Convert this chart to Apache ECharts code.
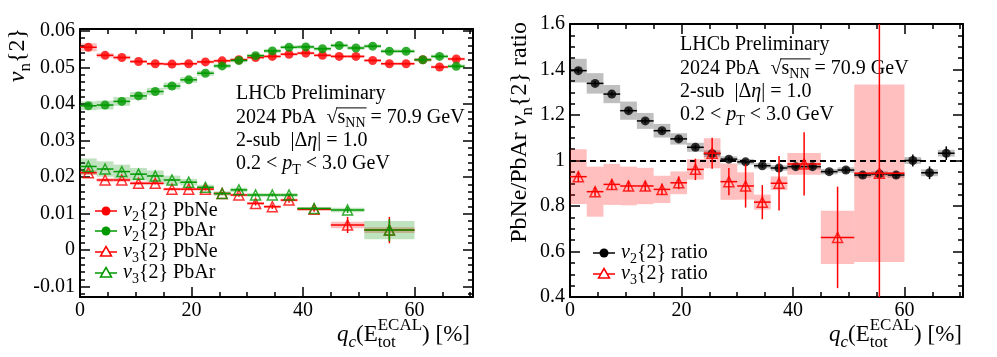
<!DOCTYPE html>
<html>
<head>
<meta charset="utf-8">
<script src="https://cdn.jsdelivr.net/npm/echarts@6/dist/echarts.min.js"></script>
<style>
  html, body { margin: 0; padding: 0; background: #fff; }
  #chart { width: 997px; height: 357px; }
</style>
</head>
<body>
<div id="chart"></div>
<script>
// centrality bins, q_c in %
const v2Bins = [1.5, 4.5, 7.5, 10.5, 13.5, 16.5, 19.5, 22.5, 25.5, 28.5, 31.5, 34.5, 37.5, 40.5, 43.5, 46.5, 49.5, 52.5, 55.5, 58.5, 61.5, 64.5, 67.5]
const v2HalfWidth = 1.5
const v3Bins = [1.5, 4.5, 7.5, 10.5, 13.5, 16.5, 19.5, 22.5, 25.5, 28.5, 31.5, 34.5, 37.5, 42, 48, 55.5]
const v3HalfWidth = [1.5, 1.5, 1.5, 1.5, 1.5, 1.5, 1.5, 1.5, 1.5, 1.5, 1.5, 1.5, 1.5, 3, 3, 4.5]

// left panel: vn{2}
const v2PbNe = [0.0555, 0.0533, 0.0527, 0.0516, 0.0510, 0.0509, 0.0510, 0.0515, 0.0518, 0.0521, 0.0527, 0.0530, 0.0536, 0.0539, 0.0533, 0.0530, 0.0530, 0.0519, 0.0510, 0.0510, 0.0521, 0.0501, 0.0523]
const v2PbNeStat = [0.0002, 0.0002, 0.0002, 0.0002, 0.0002, 0.0002, 0.0002, 0.0002, 0.0002, 0.0002, 0.0002, 0.0002, 0.0002, 0.0002, 0.0002, 0.0002, 0.0002, 0.0002, 0.0003, 0.0003, 0.0004, 0.0004, 0.0004]
const v2PbNeSyst = [0.0011, 0.0006, 0.0005, 0.0004, 0.0004, 0.0004, 0.0004, 0.0004, 0.0004, 0.0004, 0.0004, 0.0004, 0.0004, 0.0004, 0.0004, 0.0004, 0.0004, 0.0004, 0.0004, 0.0004, 0.0004, 0.0004, 0.0004]
const v2PbAr = [0.0395, 0.0397, 0.0407, 0.0422, 0.0434, 0.0449, 0.0466, 0.0484, 0.0504, 0.0519, 0.0532, 0.0545, 0.0555, 0.0556, 0.0551, 0.0560, 0.0553, 0.0558, 0.0544, 0.0544, 0.0521, 0.0530, 0.0503]
const v2PbArStat = [0.0002, 0.0002, 0.0002, 0.0002, 0.0002, 0.0002, 0.0002, 0.0002, 0.0002, 0.0002, 0.0002, 0.0002, 0.0002, 0.0002, 0.0002, 0.0002, 0.0002, 0.0002, 0.0003, 0.0003, 0.0004, 0.0004, 0.0004]
const v2PbArSyst = [0.0012, 0.0012, 0.0012, 0.0011, 0.0010, 0.0009, 0.0008, 0.0007, 0.0006, 0.0005, 0.0005, 0.0005, 0.0005, 0.0005, 0.0005, 0.0005, 0.0005, 0.0005, 0.0005, 0.0005, 0.0005, 0.0005, 0.0005]
const v3PbNe = [0.0212, 0.0192, 0.0192, 0.0183, 0.0183, 0.0167, 0.0167, 0.0167, 0.0155, 0.0151, 0.0128, 0.0119, 0.0137, 0.0112, 0.0069, 0.0055]
const v3PbNeStat = [0.0003, 0.0003, 0.0003, 0.0003, 0.0003, 0.0003, 0.0003, 0.0004, 0.0004, 0.0005, 0.0006, 0.0006, 0.0007, 0.0007, 0.0022, 0.0036]
const v3PbNeSyst = [0.0006, 0.0005, 0.0005, 0.0005, 0.0005, 0.0004, 0.0004, 0.0004, 0.0004, 0.0004, 0.0004, 0.0004, 0.0004, 0.0005, 0.0009, 0.0008]
const v3PbAr = [0.0229, 0.0222, 0.0215, 0.0208, 0.0203, 0.0192, 0.0186, 0.0172, 0.0155, 0.0165, 0.0151, 0.0151, 0.0151, 0.0114, 0.0110, 0.0055]
const v3PbArStat = [0.0003, 0.0003, 0.0003, 0.0003, 0.0003, 0.0003, 0.0003, 0.0003, 0.0003, 0.0004, 0.0004, 0.0004, 0.0004, 0.0005, 0.0008, 0.0030]
const v3PbArSyst = [0.0022, 0.0021, 0.0019, 0.0017, 0.0015, 0.0012, 0.0009, 0.0007, 0.0006, 0.0006, 0.0005, 0.0005, 0.0005, 0.0004, 0.0006, 0.0025]

// right panel: PbNe/PbAr ratio
const ratioV2 = [1.395, 1.339, 1.292, 1.219, 1.174, 1.131, 1.095, 1.058, 1.030, 1.006, 0.994, 0.977, 0.967, 0.973, 0.973, 0.951, 0.958, 0.936, 0.941, 0.936, 1.000, 0.946, 1.032]
const ratioV2Stat = [0.010, 0.010, 0.010, 0.010, 0.010, 0.010, 0.010, 0.010, 0.010, 0.010, 0.010, 0.010, 0.010, 0.010, 0.010, 0.010, 0.012, 0.012, 0.012, 0.014, 0.026, 0.028, 0.030]
const ratioV2Syst = [0.052, 0.045, 0.040, 0.040, 0.035, 0.030, 0.025, 0.020, 0.015, 0.012, 0.012, 0.012, 0.012, 0.012, 0.012, 0.012, 0.012, 0.012, 0.012, 0.012, 0.015, 0.015, 0.015]
const ratioV3 = [0.929, 0.863, 0.895, 0.888, 0.888, 0.873, 0.902, 0.961, 1.032, 0.907, 0.888, 0.817, 0.900, 0.985, 0.662, 0.944]
const ratioV3Stat = [0.022, 0.020, 0.022, 0.022, 0.022, 0.025, 0.028, 0.047, 0.068, 0.060, 0.095, 0.075, 0.120, 0.139, 0.223, 1.500]
const ratioV3Syst = [0.120, 0.110, 0.090, 0.085, 0.080, 0.060, 0.050, 0.045, 0.066, 0.080, 0.060, 0.033, 0.030, 0.048, 0.117, 0.390]

const X_MAX = 70.5
const FONT = 'Liberation Serif'
const RED = '#ff0000'
const GREEN = '#009900'
const BLACK = '#000000'

const hw = (w, i) => Array.isArray(w) ? w[i] : w

// syst. uncertainty boxes
function boxSeries(grid, xs, w, ys, errs, fill, z) {
  return {
    type: 'custom', xAxisIndex: grid * 4, yAxisIndex: grid * 4, z, silent: true, animation: false,
    data: xs.map((x, i) => [x - hw(w, i), x + hw(w, i), ys[i] - errs[i], ys[i] + errs[i]]),
    renderItem(params, api) {
      const a = api.coord([api.value(0), api.value(3)])
      const b = api.coord([api.value(1), api.value(2)])
      const cs = params.coordSys
      const r = echarts.graphic.clipRectByRect(
        { x: a[0], y: a[1], width: b[0] - a[0], height: b[1] - a[1] },
        { x: cs.x, y: cs.y, width: cs.width, height: cs.height })
      return r ? { type: 'rect', shape: r, style: { fill } } : null
    }
  }
}

// bin width + stat. error bars
function errSeries(grid, xs, w, ys, errs, color, z) {
  return {
    type: 'custom', xAxisIndex: grid * 4, yAxisIndex: grid * 4, z, silent: true, animation: false,
    data: xs.map((x, i) => [x, x - hw(w, i), x + hw(w, i), ys[i], ys[i] - errs[i], ys[i] + errs[i]]),
    renderItem(params, api) {
      const c = api.coord([api.value(0), api.value(3)])
      const l = api.coord([api.value(1), api.value(3)])
      const r = api.coord([api.value(2), api.value(3)])
      const lo = api.coord([api.value(0), api.value(4)])
      const hi = api.coord([api.value(0), api.value(5)])
      const cs = params.coordSys
      const top = Math.max(hi[1], cs.y), bot = Math.min(lo[1], cs.y + cs.height)
      const st = { stroke: color, lineWidth: 1.5 }
      return { type: 'group', children: [
        { type: 'line', shape: { x1: l[0], y1: c[1], x2: r[0], y2: c[1] }, style: st },
        { type: 'line', shape: { x1: c[0], y1: top, x2: c[0], y2: bot }, style: st }
      ] }
    }
  }
}

function markerSeries(grid, xs, ys, color, open, z, size) {
  return {
    type: 'scatter', xAxisIndex: grid * 4, yAxisIndex: grid * 4, z, silent: true, animation: false,
    symbol: open ? 'triangle' : 'circle', symbolSize: size,
    itemStyle: open ? { color: 'rgba(255,255,255,0)', borderColor: color, borderWidth: 1.5 } : { color },
    data: xs.map((x, i) => [x, ys[i]])
  }
}

// axes: major + minor tick axes on each side of the frame
const lineSt = { color: '#000', width: 2 }
const tickSt = { color: '#000', width: 1.5 }
const labelSt = { color: '#000', fontFamily: FONT, fontSize: 20 }
function xAxes(grid) {
  const base = { type: 'value', gridIndex: grid, min: 0, max: X_MAX, splitLine: { show: false } }
  const major = (pos, labels) => ({ ...base, position: pos, interval: 20,
    axisLine: { show: true, onZero: false, lineStyle: lineSt },
    axisTick: { inside: true, length: 10, lineStyle: tickSt },
    axisLabel: { ...labelSt, show: labels, margin: 4,
      formatter: v => Math.abs(v / 20 - Math.round(v / 20)) < 1e-6 ? String(v) : '' } })
  const minor = pos => ({ ...base, position: pos, interval: 5,
    axisLine: { show: false, onZero: false }, axisTick: { inside: true, length: 5, lineStyle: tickSt },
    axisLabel: { show: false } })
  return [major('bottom', true), minor('bottom'), major('top', false), minor('top')]
}
function yAxes(grid, range, majorOpt, minorOpt, fmt) {
  const base = { type: 'value', gridIndex: grid, min: range[0], max: range[1], splitLine: { show: false } }
  const major = (pos, labels) => ({ ...base, ...majorOpt, position: pos,
    axisLine: { show: true, onZero: false, lineStyle: lineSt },
    axisTick: { inside: true, length: 10, lineStyle: tickSt },
    axisLabel: { ...labelSt, show: labels, margin: 5, formatter: fmt } })
  const minor = pos => ({ ...base, ...minorOpt, position: pos,
    axisLine: { show: false, onZero: false }, axisTick: { inside: true, length: 5, lineStyle: tickSt },
    axisLabel: { show: false } })
  return [major('left', true), minor('left'), major('right', false), minor('right')]
}

// text with sub/superscripts, laid out piece by piece
const measureCtx = document.createElement('canvas').getContext('2d')
function textWidth(str, size, italic) {
  measureCtx.font = (italic ? 'italic ' : '') + size + 'px "' + FONT + '"'
  return measureCtx.measureText(str).width
}
function mathText(parts, opt) {
  const size = opt.size || 20, small = Math.round(size * 0.72)
  const kids = []
  let cx = 0, olFrom = null, olTo = null
  parts.forEach(p => {
    let w = 0
    ;(p.stack || [p]).forEach(q => {
      const s = (q.sub || q.sup) ? small : size
      const dy = q.sub ? size * 0.32 : q.sup ? -size * 0.4 : 0
      kids.push({ type: 'text', x: cx, y: dy, style: {
        text: q.t, fontFamily: FONT, fontSize: s, fontStyle: q.it ? 'italic' : 'normal', fill: '#000',
        textAlign: 'left', textVerticalAlign: 'middle', align: 'left', verticalAlign: 'middle' } })
      const qw = textWidth(q.t, s, q.it)
      if (q.ol) { if (olFrom === null) olFrom = cx; olTo = cx + qw }
      w = Math.max(w, qw)
    })
    cx += w
  })
  if (olFrom !== null) {
    kids.push({ type: 'line', shape: { x1: olFrom - 1, y1: -size * 0.47, x2: olTo + 1, y2: -size * 0.47 },
      style: { stroke: '#000', lineWidth: 1 } })
  }
  const shift = opt.align === 'right' ? -cx : opt.align === 'center' ? -cx / 2 : 0
  kids.forEach(k => { if (k.type === 'text') k.x += shift; else { k.shape.x1 += shift; k.shape.x2 += shift } })
  return { type: 'group', x: opt.x, y: opt.y, rotation: opt.rotation || 0, silent: true, children: kids }
}

function infoBlock(x, y0) {
  const dy = 23.3
  return [
    mathText([{ t: 'LHCb Preliminary' }], { x, y: y0 }),
    mathText([{ t: '2024 PbA  ' }, { t: '√' }, { t: 's', ol: true }, { t: 'NN', sub: true, ol: true }, { t: ' = 70.9 GeV' }], { x, y: y0 + dy }),
    mathText([{ t: '2-sub  |Δ' }, { t: 'η', it: true }, { t: '| = 1.0' }], { x, y: y0 + 2 * dy }),
    mathText([{ t: '0.2 < ' }, { t: 'p', it: true }, { t: 'T', sub: true }, { t: ' < 3.0 GeV' }], { x, y: y0 + 3 * dy })
  ]
}

function legendEntry(x, y, color, open, label) {
  const marker = open
    ? { type: 'polygon', shape: { points: [[x, y - 5.5], [x + 5.5, y + 4], [x - 5.5, y + 4]] }, style: { fill: '#fff', stroke: color, lineWidth: 1.5 } }
    : { type: 'circle', shape: { cx: x, cy: y, r: 4.5 }, style: { fill: color } }
  return [
    { type: 'line', shape: { x1: x - 11, y1: y, x2: x + 11, y2: y }, style: { stroke: color, lineWidth: 1.5 }, silent: true },
    { ...marker, silent: true },
    mathText(label, { x: x + 17, y })
  ]
}

const xTitle = [{ t: 'q', it: true }, { t: 'c', sub: true, it: true }, { t: '(E' },
  { stack: [{ t: 'ECAL', sup: true }, { t: 'tot', sub: true }] }, { t: ') [%]' }]

const leftFmt = v => {
  const k = Math.round(v * 100)
  if (Math.abs(v * 100 - k) > 1e-6) return ''
  return k === 0 ? '0' : (k / 100).toFixed(2)
}
const rightFmt = v => String(parseFloat(v.toFixed(2)))

const chart = echarts.init(document.getElementById('chart'), null, { renderer: 'canvas' })
chart.setOption({
  animation: false,
  backgroundColor: '#fff',
  textStyle: { fontFamily: FONT },
  grid: [
    { left: 80, top: 29, width: 393, height: 268 },
    { left: 570, top: 24, width: 393, height: 273 }
  ],
  xAxis: [...xAxes(0), ...xAxes(1)],
  yAxis: [
    ...yAxes(0, [-0.0128, 0.0605], { splitNumber: 7, minInterval: 0.01, maxInterval: 0.01 },
      { splitNumber: 36, minInterval: 0.002, maxInterval: 0.002 }, leftFmt),
    ...yAxes(1, [0.4, 1.6], { interval: 0.2 }, { interval: 0.05 }, rightFmt)
  ],
  series: [
    // left panel
    boxSeries(0, v2Bins, v2HalfWidth, v2PbNe, v2PbNeSyst, 'rgba(255,0,0,0.25)', 1),
    boxSeries(0, v2Bins, v2HalfWidth, v2PbAr, v2PbArSyst, 'rgba(0,140,0,0.25)', 1),
    boxSeries(0, v3Bins, v3HalfWidth, v3PbNe, v3PbNeSyst, 'rgba(255,0,0,0.25)', 1),
    boxSeries(0, v3Bins, v3HalfWidth, v3PbAr, v3PbArSyst, 'rgba(0,140,0,0.25)', 1),
    errSeries(0, v2Bins, v2HalfWidth, v2PbNe, v2PbNeStat, RED, 3),
    markerSeries(0, v2Bins, v2PbNe, RED, false, 3, 9),
    errSeries(0, v2Bins, v2HalfWidth, v2PbAr, v2PbArStat, GREEN, 4),
    markerSeries(0, v2Bins, v2PbAr, GREEN, false, 4, 9),
    errSeries(0, v3Bins, v3HalfWidth, v3PbNe, v3PbNeStat, RED, 5),
    markerSeries(0, v3Bins, v3PbNe, RED, true, 5, 10),
    errSeries(0, v3Bins, v3HalfWidth, v3PbAr, v3PbArStat, GREEN, 6),
    markerSeries(0, v3Bins, v3PbAr, GREEN, true, 6, 10),
    // right panel
    boxSeries(1, v2Bins, v2HalfWidth, ratioV2, ratioV2Syst, 'rgba(0,0,0,0.25)', 1),
    boxSeries(1, v3Bins, v3HalfWidth, ratioV3, ratioV3Syst, 'rgba(255,0,0,0.25)', 1),
    errSeries(1, v2Bins, v2HalfWidth, ratioV2, ratioV2Stat, BLACK, 3),
    {
      ...markerSeries(1, v2Bins, ratioV2, BLACK, false, 3, 9),
      markLine: {
        silent: true, symbol: 'none', z: 2, label: { show: false },
        lineStyle: { color: '#000', width: 2, type: [6, 4] },
        data: [{ yAxis: 1 }]
      }
    },
    errSeries(1, v3Bins, v3HalfWidth, ratioV3, ratioV3Stat, RED, 4),
    markerSeries(1, v3Bins, ratioV3, RED, true, 4, 10)
  ],
  graphic: [
    ...infoBlock(236, 94),
    ...infoBlock(680, 45),
    ...legendEntry(106, 211, RED, false, [{ t: 'v', it: true }, { t: '2', sub: true }, { t: '{2} PbNe' }]),
    ...legendEntry(106, 231, GREEN, false, [{ t: 'v', it: true }, { t: '2', sub: true }, { t: '{2} PbAr' }]),
    ...legendEntry(106, 252, RED, true, [{ t: 'v', it: true }, { t: '3', sub: true }, { t: '{2} PbNe' }]),
    ...legendEntry(106, 273, GREEN, true, [{ t: 'v', it: true }, { t: '3', sub: true }, { t: '{2} PbAr' }]),
    ...legendEntry(604, 253, BLACK, false, [{ t: 'v', it: true }, { t: '2', sub: true }, { t: '{2} ratio' }]),
    ...legendEntry(604, 274, RED, true, [{ t: 'v', it: true }, { t: '3', sub: true }, { t: '{2} ratio' }]),
    mathText([{ t: 'v', it: true }, { t: 'n', sub: true }, { t: '{2}' }],
      { x: 18, y: 28, align: 'right', rotation: Math.PI / 2, size: 24 }),
    mathText([{ t: 'PbNe/PbAr ' }, { t: 'v', it: true }, { t: 'n', sub: true }, { t: '{2} ratio' }],
      { x: 520, y: 22, align: 'right', rotation: Math.PI / 2, size: 24 }),
    mathText(xTitle, { x: 470, y: 335, align: 'right', size: 23 }),
    mathText(xTitle, { x: 962, y: 335, align: 'right', size: 23 })
  ]
})
</script>
</body>
</html>
